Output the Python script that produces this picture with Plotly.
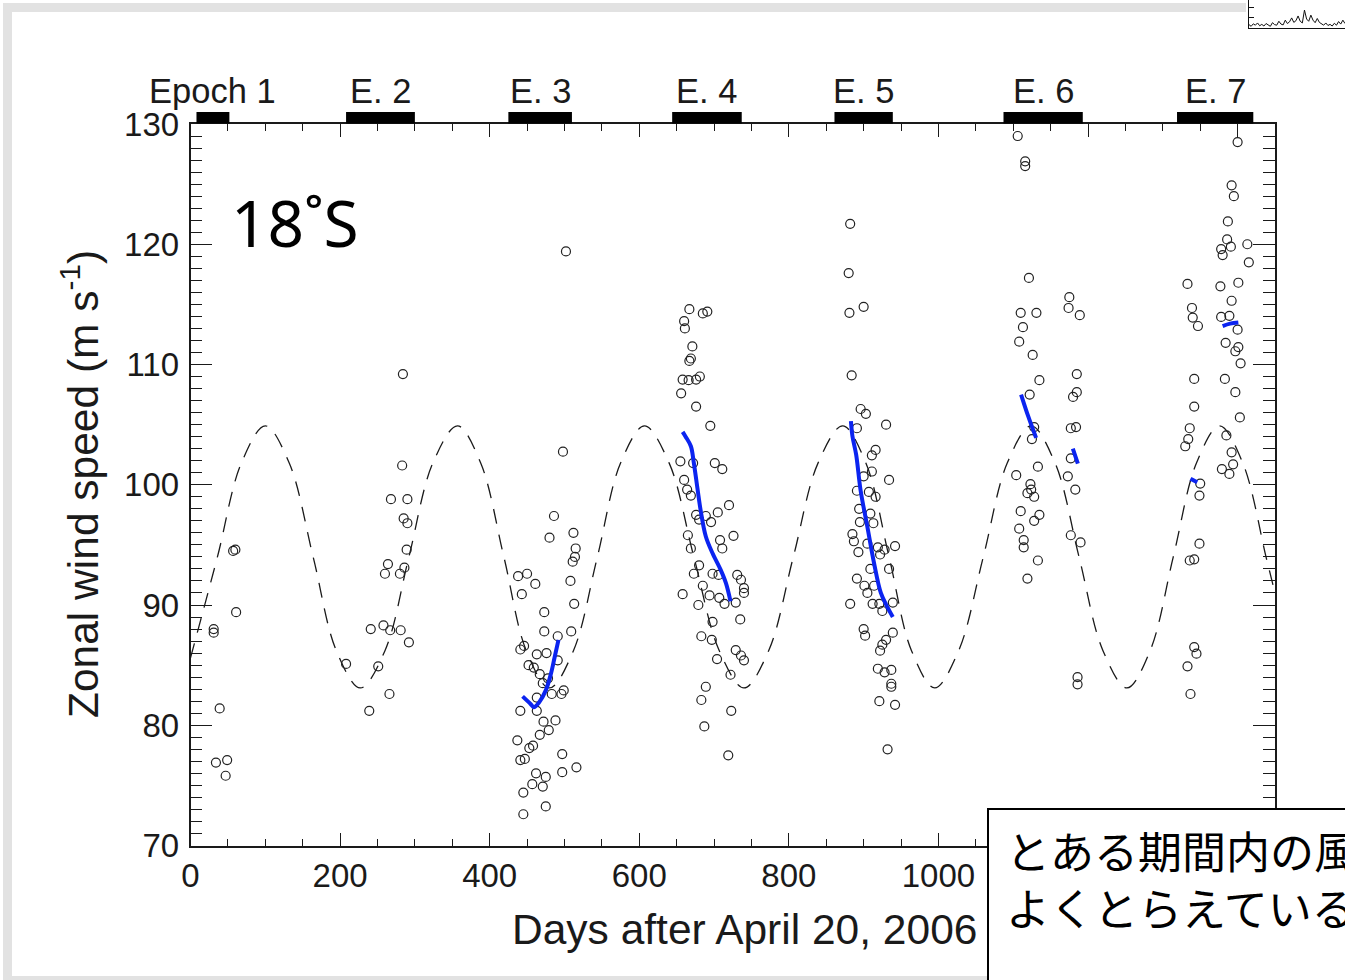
import plotly.graph_objects as go

W, H = 1345, 980

# ---------------- data ----------------
x_range = [0, 1450]
y_range = [70, 130]
x_tick_vals = [0, 200, 400, 600, 800, 1000]
x_tick_labels = ["0", "200", "400", "600", "800", "1000"]
x_hidden_major_ticks = [1200, 1400]   # their labels sit under the note box
y_tick_vals = [70, 80, 90, 100, 110, 120, 130]
y_tick_labels = ["70", "80", "90", "100", "110", "120", "130"]

epoch_labels = ["Epoch 1", "E. 2", "E. 3", "E. 4", "E. 5", "E. 6", "E. 7"]
epoch_start = [8, 208, 425, 644, 861, 1087, 1319]
epoch_end = [52, 300, 510, 737, 939, 1193, 1421]

epoch1_points = [(60, 94.6), (57, 94.5), (61, 89.4), (31, 88.0), (31, 87.7), (39, 81.4),
                 (34, 76.9), (49, 77.1), (47, 75.8)]
epoch2_points = [(284, 109.2), (283, 101.6), (268, 98.8), (290, 98.8), (285, 97.2), (290, 96.8),
                 (289, 94.6), (264, 93.4), (260, 92.6), (280, 92.6), (286, 93.1), (241, 88.0),
                 (258, 88.3), (267, 87.9), (281, 87.9), (292, 86.9), (208, 85.1), (251, 84.9),
                 (266, 82.6), (239, 81.2)]
epoch3_points = [(502, 119.4), (498, 102.75), (486, 97.4), (480, 95.6), (512, 96.0), (515, 94.7),
                 (514, 94.0), (511, 93.6), (438, 92.4), (450, 92.6), (461, 91.75), (443, 90.9),
                 (508, 92.0), (513, 90.1), (473, 89.4), (473, 87.8), (509, 87.8), (491, 87.4),
                 (441, 86.3), (446, 86.6), (463, 85.9), (476, 86.0), (491, 85.4), (452, 85.0),
                 (459, 84.8), (467, 84.25), (471, 83.5), (478, 83.9), (483, 82.6), (496, 82.6),
                 (499, 82.9), (463, 82.3), (441, 81.2), (463, 81.2), (472, 80.3), (488, 80.4),
                 (479, 79.6), (467, 79.2), (437, 78.75), (458, 78.3), (453, 78.1), (497, 77.6),
                 (441, 77.1), (447, 77.2), (516, 76.5), (497, 76.1), (462, 76.0), (475, 75.7),
                 (457, 75.1), (471, 74.9), (445, 74.4), (475, 73.25), (445, 72.6)]
epoch4_points = [(667, 114.6), (685, 114.25), (691, 114.4), (660, 113.6), (661, 113.0), (671, 111.5),
                 (669, 110.5), (667, 110.3), (658, 108.75), (666, 108.7), (676, 108.75), (681, 109.0),
                 (656, 107.6), (676, 106.5), (695, 104.9), (655, 101.95), (672, 101.8), (701, 101.8),
                 (711, 101.3), (660, 100.4), (664, 99.6), (669, 99.1), (720, 98.3), (676, 97.5),
                 (689, 97.4), (705, 97.7), (680, 97.1), (696, 96.9), (665, 95.8), (726, 95.75),
                 (708, 95.4), (669, 94.7), (711, 94.7), (680, 93.3), (673, 92.6), (698, 92.6),
                 (706, 92.5), (731, 92.5), (736, 92.1), (740, 91.4), (740, 91.0), (685, 91.6),
                 (658, 90.9), (694, 90.8), (707, 90.6), (714, 90.1), (729, 90.2), (679, 90.0),
                 (735, 88.8), (698, 88.6), (683, 87.4), (697, 87.1), (729, 86.25), (736, 85.8),
                 (740, 85.4), (704, 85.5), (722, 84.2), (689, 83.2), (683, 82.1), (723, 81.2),
                 (687, 79.9), (719, 77.5)]
epoch5_points = [(882, 121.7), (880, 117.6), (881, 114.3), (900, 114.8), (884, 109.1), (896, 106.3),
                 (903, 105.9), (930, 105.0), (891, 104.7), (916, 102.9), (911, 102.45), (911, 101.1),
                 (934, 100.4), (900, 100.7), (891, 99.5), (907, 99.4), (916, 99.0), (894, 98.0),
                 (909, 97.6), (913, 96.8), (895, 96.9), (885, 95.9), (887, 95.3), (893, 94.4),
                 (905, 95.1), (919, 94.8), (928, 94.6), (942, 94.9), (922, 94.2), (909, 93.0),
                 (934, 93.0), (891, 92.2), (901, 91.6), (914, 91.6), (905, 91.0), (882, 90.1),
                 (912, 90.1), (921, 90.1), (925, 89.5), (939, 90.2), (900, 88.0), (902, 87.45),
                 (939, 87.7), (930, 87.1), (925, 86.7), (922, 86.2), (919, 84.7), (928, 84.4),
                 (937, 84.6), (937, 83.45), (937, 83.2), (921, 82.0), (942, 81.7), (932, 78.0)]
epoch6_points = [(1106, 129.0), (1116, 126.9), (1116, 126.5), (1121, 117.2), (1110, 114.3), (1131, 114.3),
                 (1175, 115.6), (1174, 114.7), (1189, 114.1), (1113, 113.1), (1108, 111.9), (1126, 110.8),
                 (1135, 108.7), (1185, 109.2), (1185, 107.7), (1180, 107.3), (1122, 107.5), (1177, 104.7),
                 (1184, 104.8), (1128, 104.8), (1125, 103.8), (1177, 102.2), (1133, 101.5), (1104, 100.8),
                 (1173, 100.7), (1183, 99.6), (1123, 100.05), (1124, 99.6), (1119, 99.3), (1128, 99.0),
                 (1110, 97.8), (1135, 97.5), (1128, 97.0), (1108, 96.35), (1114, 95.4), (1114, 94.8),
                 (1133, 93.7), (1177, 95.8), (1190, 95.2), (1119, 92.2), (1186, 84.0), (1186, 83.4)]
epoch7_points = [(1400, 128.5), (1392, 124.9), (1395, 124.0), (1387, 121.9), (1386, 120.4), (1391, 119.8),
                 (1378, 119.6), (1380, 119.1), (1413, 120.0), (1415, 118.5), (1333, 116.7), (1377, 116.5),
                 (1401, 116.8), (1392, 115.3), (1339, 114.7), (1340, 113.9), (1347, 113.2), (1378, 113.96),
                 (1389, 114.05), (1400, 112.9), (1384, 111.8), (1401, 111.45), (1397, 111.1), (1404, 110.1),
                 (1342, 108.8), (1383, 108.8), (1397, 107.7), (1342, 106.5), (1403, 105.6), (1336, 104.7),
                 (1334, 103.8), (1330, 103.2), (1385, 104.1), (1392, 102.7), (1394, 101.7), (1379, 101.3),
                 (1389, 100.9), (1350, 100.1), (1349, 99.1), (1349, 95.1), (1342, 93.8), (1336, 93.7),
                 (1342, 86.5), (1345, 85.95), (1333, 84.9), (1337, 82.6)]

fit3 = [(444, 82.4), (455, 81.75), (459, 81.5), (466, 81.9), (475, 82.9), (482, 84.3), (487, 85.7), (492, 87.1)]
fit4 = [(658, 104.4), (662, 104.0), (669, 103.2), (673, 101.8), (678, 99.6), (682, 97.9), (689, 95.7),
        (698, 94.3), (709, 92.9), (716, 91.8), (722, 90.3)]
fit5 = [(883, 105.3), (885, 104.05), (890, 102.5), (896, 99.5), (905, 96.5), (914, 93.45), (923, 91.0),
        (932, 89.8), (939, 89.0)]
fit6a = [(1110.5, 107.5), (1120, 105.7), (1130.6, 103.9)]
fit6b = [(1179.7, 103.0), (1186.4, 101.75)]
fit7a = [(1337, 100.5), (1346, 100.2)]
fit7b = [(1380, 113.2), (1390, 113.4), (1401, 113.5)]

model_days = [0, 36, 68, 100, 132, 164, 195, 227, 260, 292, 324, 357, 388, 419, 449, 480,
              512, 544, 575, 607, 640, 673, 707, 740, 773, 806, 839, 872, 903, 934, 964, 995,
              1027, 1060, 1092, 1124, 1156, 1188, 1220, 1252, 1283, 1314, 1345, 1376, 1407, 1438, 1450]
model_vals = [85.6, 94.0, 101.8, 104.9, 101.8, 94.0, 86.2, 83.1, 86.2, 94.0, 101.8, 104.9, 101.8, 94.0, 86.2, 83.1,
              86.2, 94.0, 101.8, 104.9, 101.8, 94.0, 86.2, 83.1, 86.2, 94.0, 101.8, 104.9, 101.8, 94.0, 86.2, 83.1,
              86.2, 94.0, 101.8, 104.9, 101.8, 94.0, 86.2, 83.1, 86.2, 94.0, 101.8, 104.9, 101.8, 94.0, 91.0]

spark_vals = [1.2, 0.6, 1.5, 1.0, 1.8, 0.8, 1.3, 0.7, 1.6, 1.0, 0.6, 1.9, 1.2, 1.0, 2.4, 1.4,
              1.1, 2.8, 1.6, 2.2, 3.6, 2.0, 2.6, 4.3, 2.4, 1.8, 6.4, 3.2, 2.4, 4.6, 2.8, 1.9,
              3.4, 2.0, 1.4, 1.0, 1.8, 0.9, 1.3, 0.7, 1.7, 1.0, 2.3, 1.4, 2.8, 1.6]

japanese_text = "とある期間内の風速変化を<br>よくとらえているようだ"
location_label = "18˚S"
x_title = "Days after April 20, 2006"
y_title = "Zonal wind speed (m s<sup>-1</sup>)"

# ---------------- figure ----------------
FONT = "Liberation Sans, Arial, sans-serif"
INK = "#1a1a1a"


def px_x(p):
    return p / W


def px_y(p):
    return 1 - p / H


fig = go.Figure()

fig.add_trace(go.Scatter(
    x=model_days, y=model_vals, mode="lines",
    line=dict(color=INK, width=1.3, dash="15px,11px", shape="spline", smoothing=1.0),
    hoverinfo="skip", showlegend=False))

for pts in [epoch1_points, epoch2_points, epoch3_points, epoch4_points,
            epoch5_points, epoch6_points, epoch7_points]:
    fig.add_trace(go.Scatter(
        x=[p[0] for p in pts], y=[p[1] for p in pts], mode="markers",
        marker=dict(symbol="circle-open", size=9, color="#222222", line=dict(width=1.2)),
        showlegend=False, hoverinfo="skip"))

for fit in [fit3, fit4, fit5, fit6a, fit6b, fit7a, fit7b]:
    fig.add_trace(go.Scatter(
        x=[p[0] for p in fit], y=[p[1] for p in fit], mode="lines",
        line=dict(color="#0b24f0", width=4, shape="spline"),
        showlegend=False, hoverinfo="skip"))

# empty trace carrying the extra major ticks (1200, 1400) on an overlaying axis
fig.add_trace(go.Scatter(x=[], y=[], xaxis="x3", yaxis="y", showlegend=False, hoverinfo="skip"))

# sparkline inset (top right)
fig.add_trace(go.Scatter(
    x=list(range(len(spark_vals))), y=spark_vals, mode="lines",
    line=dict(color="#111111", width=1), xaxis="x2", yaxis="y2",
    showlegend=False, hoverinfo="skip"))

shapes = []
GRAY = "#e2e2e2"
shapes.append(dict(type="rect", xref="paper", yref="paper", x0=px_x(3), x1=px_x(12), y0=px_y(980), y1=px_y(3),
                   fillcolor=GRAY, line=dict(width=0), layer="below"))
shapes.append(dict(type="rect", xref="paper", yref="paper", x0=px_x(3), x1=px_x(1246), y0=px_y(12), y1=px_y(3),
                   fillcolor=GRAY, line=dict(width=0), layer="below"))
shapes.append(dict(type="rect", xref="paper", yref="paper", x0=px_x(3), x1=px_x(988), y0=px_y(981), y1=px_y(976),
                   fillcolor=GRAY, line=dict(width=0), layer="below"))
for s, e in zip(epoch_start, epoch_end):
    shapes.append(dict(type="rect", xref="x", yref="paper", x0=s, x1=e, y0=px_y(123.5), y1=px_y(112),
                       fillcolor="black", line=dict(width=0), layer="above"))
shapes.append(dict(type="rect", xref="paper", yref="paper", x0=px_x(988), x1=1.05, y0=-0.05, y1=px_y(809),
                   fillcolor="white", line=dict(color="black", width=2), layer="above"))

annotations = []
for lab, s, e in zip(epoch_labels, epoch_start, epoch_end):
    annotations.append(dict(text=lab, x=(s + e) / 2, xref="x", y=px_y(91), yref="paper",
                            xanchor="center", yanchor="middle", showarrow=False,
                            font=dict(family=FONT, size=34.5, color=INK)))
annotations.append(dict(text=x_title, x=px_x(744), y=px_y(929), xref="paper", yref="paper",
                        xanchor="center", yanchor="middle", showarrow=False,
                        font=dict(family=FONT, size=42.5, color=INK)))
annotations.append(dict(text=y_title, x=px_x(80), y=px_y(484), xref="paper", yref="paper",
                        xanchor="center", yanchor="middle", showarrow=False, textangle=-90,
                        font=dict(family=FONT, size=42.5, color=INK)))
annotations.append(dict(text=location_label, x=px_x(295), y=px_y(222), xref="paper", yref="paper",
                        xanchor="center", yanchor="middle", showarrow=False,
                        font=dict(family="Noto Sans, sans-serif", size=64, color="black")))
annotations.append(dict(text=japanese_text, x=px_x(1004), y=px_y(878), xref="paper", yref="paper",
                        xanchor="left", yanchor="middle", align="left", showarrow=False,
                        font=dict(family="Noto Sans CJK JP", size=44, color="black")))

fig.update_layout(
    width=W, height=H,
    margin=dict(l=0, r=0, t=0, b=0, pad=0, autoexpand=False),
    paper_bgcolor="white", plot_bgcolor="white",
    showlegend=False,
    shapes=shapes, annotations=annotations,
    xaxis=dict(
        domain=[px_x(190.5), px_x(1275)], range=x_range, automargin=False,
        tickvals=x_tick_vals, ticktext=x_tick_labels,
        ticks="inside", ticklen=13, tickwidth=1.3, tickcolor=INK,
        minor=dict(dtick=50, tick0=0, ticks="inside", ticklen=7, tickwidth=1.2, tickcolor=INK, showgrid=False),
        showline=True, linecolor=INK, linewidth=1.6, mirror="ticks",
        showgrid=False, zeroline=False,
        tickfont=dict(family=FONT, size=33, color=INK), ticklabelstandoff=0),
    xaxis3=dict(
        overlaying="x", anchor="y", range=x_range, automargin=False,
        tickvals=x_hidden_major_ticks, showticklabels=False,
        ticks="inside", ticklen=13, tickwidth=1.3, tickcolor=INK,
        showline=False, mirror="ticks", showgrid=False, zeroline=False),
    yaxis=dict(
        domain=[px_y(845.5), px_y(124)], range=y_range, automargin=False,
        tickvals=y_tick_vals, ticktext=y_tick_labels,
        ticks="inside", ticklen=22, tickwidth=1.3, tickcolor=INK,
        minor=dict(dtick=1, tick0=70, ticks="inside", ticklen=12, tickwidth=1.2, tickcolor=INK, showgrid=False),
        showline=True, linecolor=INK, linewidth=1.6, mirror="ticks",
        showgrid=False, zeroline=False,
        tickfont=dict(family=FONT, size=33, color=INK), ticklabelstandoff=3),
    xaxis2=dict(domain=[px_x(1249), 1.0], range=[0, len(spark_vals) - 1], anchor="y2", automargin=False,
                showline=True, linecolor="#111", linewidth=1, showticklabels=False,
                ticks="", showgrid=False, zeroline=False),
    yaxis2=dict(domain=[px_y(28), 1.0], range=[0, 10], anchor="x2", automargin=False,
                showline=True, linecolor="#111", linewidth=1, showticklabels=False,
                tickvals=[3.6, 7.5], ticks="inside", ticklen=5, tickcolor="#111",
                showgrid=False, zeroline=False),
)

fig.write_html("out.html")
